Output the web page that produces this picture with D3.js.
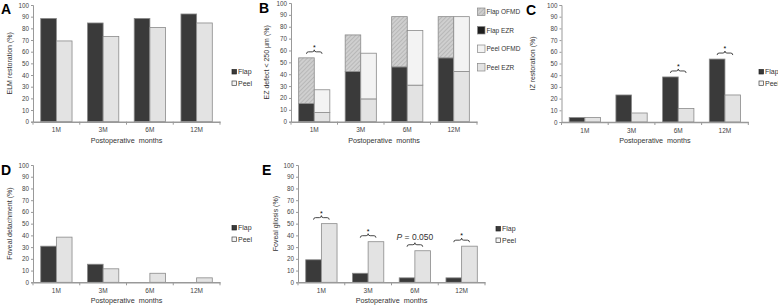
<!DOCTYPE html>
<html>
<head>
<meta charset="utf-8">
<script src="https://cdn.jsdelivr.net/npm/d3@7"></script>
<style>
  body { margin: 0; background: #fff; }
  svg { font-family: "Liberation Sans", Arial, sans-serif; }
  .tick text { fill: #444; }
</style>
</head>
<body>
<svg id="chart" width="778" height="305"></svg>
<script>
const months = ['1M', '3M', '6M', '12M'];
const yTicks = [0, 10, 20, 30, 40, 50, 60, 70, 80, 90, 100];

// A - ELM restoration
const elmFlap = [88.5, 84.6, 88.5, 92.3];
const elmPeel = [69.2, 73.1, 80.8, 84.6];

// B - EZ defect < 250 µm, stacked
const flapEZR = [15.4, 42.3, 46.2, 53.8];
const flapOFMD = [38.4, 30.8, 42.3, 34.7];
const peelEZR = [7.7, 19.2, 30.8, 42.3];
const peelOFMD = [19.2, 38.5, 46.1, 46.2];

// C - IZ restoration
const izFlap = [3.8, 23.1, 38.5, 53.8];
const izPeel = [3.8, 7.7, 11.5, 23.1];

// D - foveal detachment
const detFlap = [30.8, 15.4, 0, 0];
const detPeel = [38.5, 11.5, 7.7, 3.8];

// E - foveal gliosis
const gliFlap = [19.2, 7.7, 3.8, 3.8];
const gliPeel = [50, 34.6, 26.9, 30.8];

const sigB = [{m: '1M', label: '*'}];
const sigC = [{m: '6M', label: '*'}, {m: '12M', label: '*'}];
const sigE = [{m: '1M', label: '*'}, {m: '3M', label: '*'}, {m: '6M', label: 'P = 0.050'}, {m: '12M', label: '*'}];

const dark = '#3a3a3a', light = '#e3e3e3', lighter = '#f3f3f3', edge = '#8a8a8a';

const svg = d3.select('#chart');

const defs = svg.append('defs');
const pat = defs.append('pattern')
  .attr('id', 'hatch')
  .attr('patternUnits', 'userSpaceOnUse')
  .attr('width', 3).attr('height', 3)
  .attr('patternTransform', 'rotate(45)');
pat.append('rect').attr('width', 3).attr('height', 3).attr('fill', '#cfcfcf');
pat.append('line').attr('x1', 0).attr('y1', 0).attr('x2', 0).attr('y2', 3)
  .attr('stroke', '#a9a9a9').attr('stroke-width', 1.2);

const makePanel = p => {

  const g = svg.append('g');

  const x = d3.scaleBand()
    .domain(months)
    .range([p.x0, p.x1])
    .paddingInner(0.33)
    .paddingOuter(0.165);

  const xs = d3.scaleBand()
    .domain(['Flap', 'Peel'])
    .range([0, x.bandwidth()]);

  const y = d3.scaleLinear()
    .domain([0, 100])
    .range([p.yb, p.yt]);

  // y axis
  const yAxis = g.append('g')
    .attr('transform', `translate(${p.x0},0)`)
    .call(d3.axisLeft(y).tickValues(yTicks).tickSize(2).tickPadding(2))
  yAxis.selectAll('text').style('font-size', '6.3px')
  yAxis.selectAll('line').attr('stroke', '#999')
  yAxis.select('.domain').attr('stroke', '#999')

  // bars
  if (p.stack) {
    p.stack.map(s => {
      g.append('g').selectAll('rect')
        .data(months)
        .enter()
        .append('rect')
        .attr('x', (d) => x(d) + xs(s.group))
        .attr('width', xs.bandwidth())
        .attr('y', (d, i) => y(s.base ? s.base[i] + s.values[i] : s.values[i]))
        .attr('height', (d, i) => y(0) - y(s.values[i]))
        .attr('fill', s.fill)
        .attr('stroke', edge)
        .attr('stroke-width', 0.8)
    })
  } else {
    [{group: 'Flap', values: p.flap, fill: dark}, {group: 'Peel', values: p.peel, fill: light}].map(s => {
      g.append('g').selectAll('rect')
        .data(months)
        .enter()
        .append('rect')
        .attr('x', d => x(d) + xs(s.group))
        .attr('width', xs.bandwidth())
        .attr('y', (d, i) => y(s.values[i]))
        .attr('height', (d, i) => y(0) - y(s.values[i]))
        .attr('fill', s.fill)
        .attr('stroke', edge)
        .attr('stroke-width', 0.8)
        .style('display', (d, i) => s.values[i] > 0 ? null : 'none')
    })
  }

  // x axis
  const xAxis = g.append('g')
    .attr('transform', `translate(0,${p.yb})`)
    .call(d3.axisBottom(x).tickSize(0).tickPadding(6))
  xAxis.selectAll('text').style('font-size', '6.5px')
  xAxis.select('.domain').attr('stroke', '#999').attr('stroke-width', 1.6)

  d3.range(months.length + 1).map(i => {
    const xx = p.x0 + x.step() * x.paddingOuter() - x.step() * x.paddingInner() / 2 + i * x.step()
    g.append('line')
      .attr('x1', xx).attr('x2', xx)
      .attr('y1', p.yb).attr('y2', p.yb + 3)
      .attr('stroke', '#999')
  })

  g.append('text')
    .attr('x', (p.x0 + p.x1) / 2)
    .attr('y', p.yb + 21)
    .attr('text-anchor', 'middle')
    .style('font-size', '7.2px')
    .style('fill', '#333')
    .style('word-spacing', '2px')
    .text('Postoperative months')

  g.append('text')
    .attr('transform', `translate(${p.ylx},${(p.yt + p.yb) / 2}) rotate(-90)`)
    .attr('text-anchor', 'middle')
    .style('font-size', '7px')
    .style('fill', '#333')
    .text(p.ylabel)

  g.append('text')
    .attr('x', p.lx).attr('y', p.ly)
    .style('font-size', '14px')
    .style('font-weight', 'bold')
    .text(p.letter)

  // significance braces
  if (p.sig) {
    p.sig.map(s => {
      const i = months.indexOf(s.m)
      const top = p.stack
        ? Math.max(...p.stack.filter(k => !k.base).map(k => k.values[i]), ...p.stack.filter(k => k.base).map(k => k.base[i] + k.values[i]))
        : Math.max(p.flap[i], p.peel[i])
      const a = x(s.m) + xs.bandwidth() / 2
      const b = x(s.m) + xs.bandwidth() * 1.5
      const m = (a + b) / 2
      const yb = y(top) - 4
      g.append('path')
        .attr('d', `M${a},${yb} Q${a},${yb - 2} ${a + 2},${yb - 2} L${m - 2},${yb - 2} Q${m},${yb - 2} ${m},${yb - 4} Q${m},${yb - 2} ${m + 2},${yb - 2} L${b - 2},${yb - 2} Q${b},${yb - 2} ${b},${yb}`)
        .attr('fill', 'none')
        .attr('stroke', '#333')
        .attr('stroke-width', 0.9)
      if (s.label === '*') {
        g.append('text')
          .attr('x', m).attr('y', yb - 4)
          .attr('text-anchor', 'middle')
          .style('font-size', '7px')
          .text('*')
      } else {
        const t = g.append('text')
          .attr('x', m).attr('y', yb - 7)
          .attr('text-anchor', 'middle')
          .style('font-size', '8.5px')
          .style('fill', '#333')
        t.append('tspan').style('font-style', 'italic').text('P')
        t.append('tspan').text(s.label.slice(1))
      }
    })
  }

  // legend
  p.legend.map((l, i) => {
    g.append('rect')
      .attr('x', p.legx).attr('y', p.legy + i * p.legStep - p.box + 1)
      .attr('width', p.box).attr('height', p.box)
      .attr('fill', l.fill)
      .attr('stroke', l.stroke || '#555')
      .attr('stroke-width', 0.7)
    g.append('text')
      .attr('x', p.legx + p.box + 1.5)
      .attr('y', p.legy + i * p.legStep - p.box / 2 + 3.3)
      .style('font-size', p.legFont)
      .style('fill', '#333')
      .text(l.name)
  })
}

const flapPeelLegend = [{name: 'Flap', fill: dark, stroke: '#222'}, {name: 'Peel', fill: '#f4f4f4', stroke: '#444'}];

makePanel({
  letter: 'A', lx: 1, ly: 14,
  x0: 33, x1: 220, yt: 5, yb: 121.7, ylx: 12,
  ylabel: 'ELM restoration (%)',
  flap: elmFlap, peel: elmPeel,
  legend: flapPeelLegend, legx: 232, legy: 73, legStep: 11.5, box: 4.5, legFont: '7px'
})

makePanel({
  letter: 'B', lx: 259, ly: 13,
  x0: 291, x1: 477, yt: 3, yb: 121.7, ylx: 269,
  ylabel: 'EZ defect < 250 µm (%)',
  stack: [
    {group: 'Flap', values: flapEZR, fill: dark},
    {group: 'Flap', values: flapOFMD, base: flapEZR, fill: 'url(#hatch)'},
    {group: 'Peel', values: peelEZR, fill: light},
    {group: 'Peel', values: peelOFMD, base: peelEZR, fill: lighter}
  ],
  sig: sigB,
  legend: [
    {name: 'Flap OFMD', fill: 'url(#hatch)', stroke: '#888'},
    {name: 'Flap EZR', fill: '#1e1e1e', stroke: '#888'},
    {name: 'Peel OFMD', fill: lighter, stroke: '#888'},
    {name: 'Peel EZR', fill: light, stroke: '#888'}
  ],
  legx: 477.5, legy: 14.5, legStep: 18.5, box: 7.5, legFont: '6.5px'
})

makePanel({
  letter: 'C', lx: 526, ly: 15,
  x0: 561.5, x1: 748.3, yt: 5, yb: 122, ylx: 535,
  ylabel: 'IZ restoration (%)',
  flap: izFlap, peel: izPeel,
  sig: sigC,
  legend: flapPeelLegend, legx: 759, legy: 73, legStep: 11.5, box: 4.5, legFont: '7px'
})

makePanel({
  letter: 'D', lx: 1, ly: 175,
  x0: 33, x1: 220, yt: 165, yb: 282.3, ylx: 12,
  ylabel: 'Foveal detachment (%)',
  flap: detFlap, peel: detPeel,
  legend: flapPeelLegend, legx: 232, legy: 229, legStep: 11.5, box: 4.5, legFont: '7px'
})

makePanel({
  letter: 'E', lx: 262, ly: 175,
  x0: 298, x1: 485, yt: 165, yb: 282.3, ylx: 278,
  ylabel: 'Foveal gliosis (%)',
  flap: gliFlap, peel: gliPeel,
  sig: sigE,
  legend: flapPeelLegend, legx: 496, legy: 230, legStep: 11.5, box: 4.5, legFont: '7px'
})
</script>
</body>
</html>
